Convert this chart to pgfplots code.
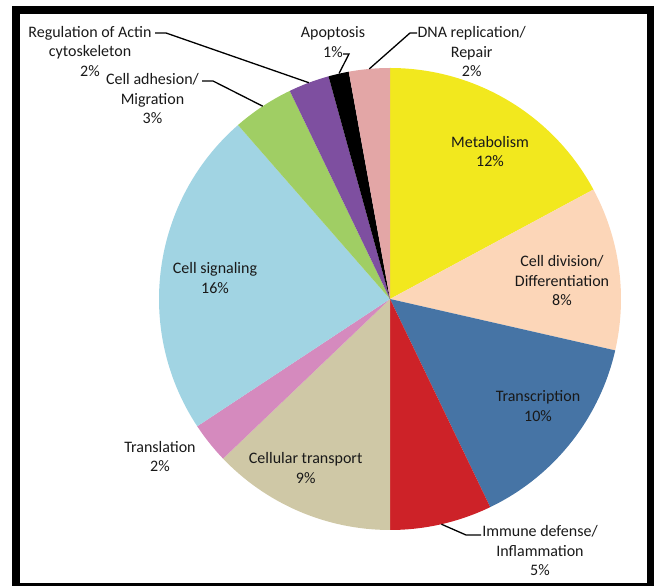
\documentclass[border=0pt]{standalone}
\usepackage{pgfplots}
\pgfplotsset{compat=1.18}
\usepackage{pgfplotstable}
\usepackage{fontspec}
\setmainfont{Carlito}

% slice colours
\definecolor{cMet}{RGB}{242,232,30}
\definecolor{cDiv}{RGB}{252,214,184}
\definecolor{cTrc}{RGB}{70,116,165}
\definecolor{cImm}{RGB}{205,34,40}
\definecolor{cTrp}{RGB}{207,200,166}
\definecolor{cTrl}{RGB}{213,138,190}
\definecolor{cSig}{RGB}{161,212,227}
\definecolor{cAdh}{RGB}{160,206,100}
\definecolor{cAct}{RGB}{126,79,160}
\definecolor{cApo}{RGB}{0,0,0}
\definecolor{cDna}{RGB}{227,166,166}
\definecolor{txt}{RGB}{25,25,25}

\tikzset{lbl/.style={font=\fontsize{16}{19.5}\selectfont, text=txt, align=center, inner sep=0pt}}

% share of genes per functional class (%), clockwise from 12 o'clock
\pgfplotstableread[col sep=comma]{
class,value,color
Metabolism,12,cMet
Division,8,cDiv
Transcription,10,cTrc
Immune,5,cImm
Transport,9,cTrp
Translation,2,cTrl
Signaling,16,cSig
Adhesion,3,cAdh
Actin,2,cAct
Apoptosis,1,cApo
DNA,2,cDna
}\piedata

\begin{document}
\begin{tikzpicture}
\begin{axis}[
  x=1pt, y=1pt,
  xmin=0, xmax=654, ymin=0, ymax=586,
  hide axis, clip=false,
  at={(0pt,0pt)}, anchor=south west,
]
\coordinate (ll) at (axis cs:0,0);
\coordinate (ur) at (axis cs:654,586);

% wedges
\pgfplotsextra{%
  \pgfplotstablegetrowsof{\piedata}%
  \pgfmathtruncatemacro{\lastrow}{\pgfplotsretval-1}%
  \gdef\pietotal{0}%
  \foreach \i in {0,...,\lastrow}{%
    \pgfplotstablegetelem{\i}{value}\of\piedata
    \pgfmathsetmacro{\tmp}{\pietotal+\pgfplotsretval}%
    \xdef\pietotal{\tmp}%
  }%
  \gdef\angA{90}%
  \foreach \i in {0,...,\lastrow}{%
    \pgfplotstablegetelem{\i}{value}\of\piedata
    \pgfmathsetmacro{\angB}{\angA-360*\pgfplotsretval/\pietotal}%
    \pgfplotstablegetelem{\i}{color}\of\piedata
    \edef\slicecolor{\pgfplotsretval}%
    \fill[fill=\slicecolor] (axis cs:390,287) -- ++(\angA:231pt)
      arc[start angle=\angA, end angle=\angB, radius=231pt] -- cycle;
    \xdef\angA{\angB}%
  }%
}

% leader lines
\draw[line width=1.3pt] (155,553) -- (166,553) -- (308.8,503.3);
\draw[line width=1.3pt] (202,505) -- (213,505) -- (262.7,479.8);
\draw[line width=1.3pt] (343,532) -- (349,532) -- (339,512.5);
\draw[line width=1.3pt] (417,553) -- (410,553) -- (369.3,517.1);
\draw[line width=1.3pt] (481,51) -- (466,51) -- (441.4,61.8);

% category labels
\node[lbl] at (490,434.5) {Metabolism\\12\%};
\node[lbl] at (562,305) {Cell division/\\Differentiation\\8\%};
\node[lbl] at (538,180) {Transcription\\10\%};
\node[lbl] at (540,35.3) {Immune defense/\\Inflammation\\5\%};
\node[lbl] at (305.7,118) {Cellular transport\\9\%};
\node[lbl] at (160,129.3) {Translation\\2\%};
\node[lbl] at (215,308) {Cell signaling\\16\%};
\node[lbl] at (152.5,487) {Cell adhesion/\\Migration\\3\%};
\node[lbl] at (90,534.5) {Regulation of Actin\\cytoskeleton\\2\%};
\node[lbl] at (333,544) {Apoptosis\\1\%};
\node[lbl] at (471.7,534.3) {DNA replication/\\Repair\\2\%};

% frame
\draw[line width=8pt] (15.5,-1) rectangle (651,576);
\end{axis}
\pgfresetboundingbox
\useasboundingbox (ll) rectangle (ur);
\end{tikzpicture}
\end{document}
